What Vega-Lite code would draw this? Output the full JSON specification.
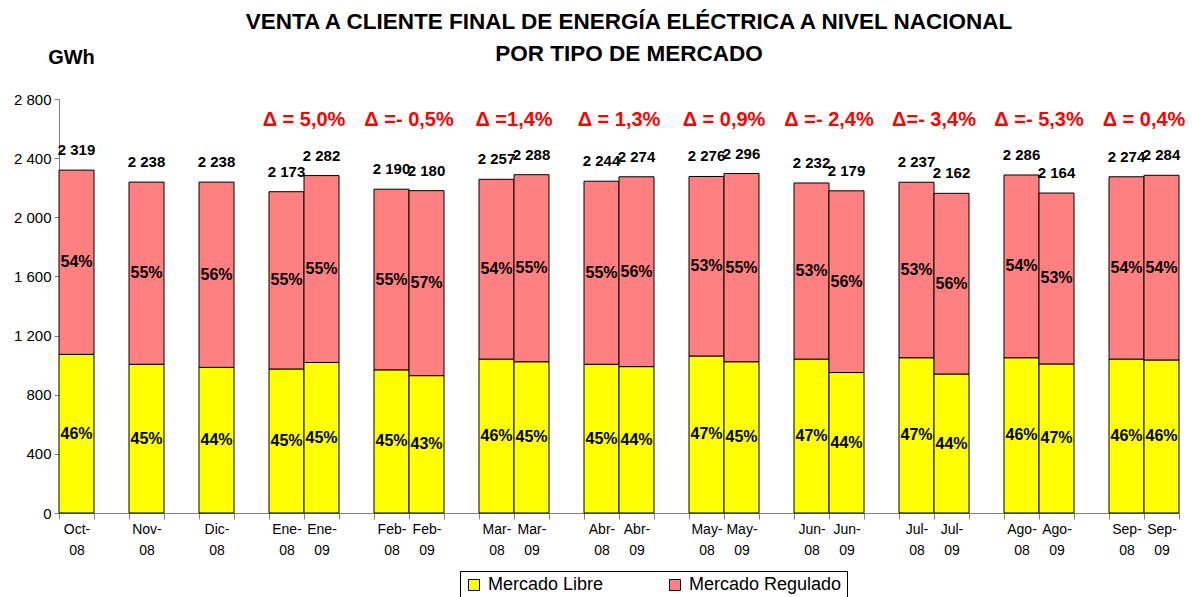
{
  "$schema": "https://vega.github.io/schema/vega-lite/v6.json",
  "width": 1120,
  "height": 414,
  "autosize": "none",
  "padding": {"left": 59, "top": 99, "right": 13, "bottom": 84},
  "background": "white",
  "title": {
    "text": ["VENTA A CLIENTE FINAL DE ENERGÍA ELÉCTRICA A NIVEL NACIONAL", "POR TIPO DE MERCADO"],
    "font": "Liberation Sans",
    "fontSize": 22.5,
    "fontWeight": "bold",
    "color": "black",
    "anchor": "middle",
    "lineHeight": 32,
    "offset": -18,
    "dx": 10
  },
  "datasets": {
    "bars": [
      {"period": "Oct-|08", "market": "Mercado Libre", "gwh": 1073, "pct": "46%"},
      {"period": "Oct-|08", "market": "Mercado Regulado", "gwh": 1246, "pct": "54%"},
      {"period": "Nov-|08", "market": "Mercado Libre", "gwh": 1006, "pct": "45%"},
      {"period": "Nov-|08", "market": "Mercado Regulado", "gwh": 1232, "pct": "55%"},
      {"period": "Dic-|08", "market": "Mercado Libre", "gwh": 985, "pct": "44%"},
      {"period": "Dic-|08", "market": "Mercado Regulado", "gwh": 1253, "pct": "56%"},
      {"period": "Ene-|08", "market": "Mercado Libre", "gwh": 974, "pct": "45%"},
      {"period": "Ene-|08", "market": "Mercado Regulado", "gwh": 1199, "pct": "55%"},
      {"period": "Ene-|09", "market": "Mercado Libre", "gwh": 1018, "pct": "45%"},
      {"period": "Ene-|09", "market": "Mercado Regulado", "gwh": 1264, "pct": "55%"},
      {"period": "Feb-|08", "market": "Mercado Libre", "gwh": 968, "pct": "45%"},
      {"period": "Feb-|08", "market": "Mercado Regulado", "gwh": 1222, "pct": "55%"},
      {"period": "Feb-|09", "market": "Mercado Libre", "gwh": 929, "pct": "43%"},
      {"period": "Feb-|09", "market": "Mercado Regulado", "gwh": 1251, "pct": "57%"},
      {"period": "Mar-|08", "market": "Mercado Libre", "gwh": 1041, "pct": "46%"},
      {"period": "Mar-|08", "market": "Mercado Regulado", "gwh": 1216, "pct": "54%"},
      {"period": "Mar-|09", "market": "Mercado Libre", "gwh": 1023, "pct": "45%"},
      {"period": "Mar-|09", "market": "Mercado Regulado", "gwh": 1265, "pct": "55%"},
      {"period": "Abr-|08", "market": "Mercado Libre", "gwh": 1006, "pct": "45%"},
      {"period": "Abr-|08", "market": "Mercado Regulado", "gwh": 1238, "pct": "55%"},
      {"period": "Abr-|09", "market": "Mercado Libre", "gwh": 990, "pct": "44%"},
      {"period": "Abr-|09", "market": "Mercado Regulado", "gwh": 1284, "pct": "56%"},
      {"period": "May-|08", "market": "Mercado Libre", "gwh": 1062, "pct": "47%"},
      {"period": "May-|08", "market": "Mercado Regulado", "gwh": 1214, "pct": "53%"},
      {"period": "May-|09", "market": "Mercado Libre", "gwh": 1023, "pct": "45%"},
      {"period": "May-|09", "market": "Mercado Regulado", "gwh": 1273, "pct": "55%"},
      {"period": "Jun-|08", "market": "Mercado Libre", "gwh": 1041, "pct": "47%"},
      {"period": "Jun-|08", "market": "Mercado Regulado", "gwh": 1191, "pct": "53%"},
      {"period": "Jun-|09", "market": "Mercado Libre", "gwh": 950, "pct": "44%"},
      {"period": "Jun-|09", "market": "Mercado Regulado", "gwh": 1229, "pct": "56%"},
      {"period": "Jul-|08", "market": "Mercado Libre", "gwh": 1050, "pct": "47%"},
      {"period": "Jul-|08", "market": "Mercado Regulado", "gwh": 1187, "pct": "53%"},
      {"period": "Jul-|09", "market": "Mercado Libre", "gwh": 940, "pct": "44%"},
      {"period": "Jul-|09", "market": "Mercado Regulado", "gwh": 1222, "pct": "56%"},
      {"period": "Ago-|08", "market": "Mercado Libre", "gwh": 1050, "pct": "46%"},
      {"period": "Ago-|08", "market": "Mercado Regulado", "gwh": 1236, "pct": "54%"},
      {"period": "Ago-|09", "market": "Mercado Libre", "gwh": 1008, "pct": "47%"},
      {"period": "Ago-|09", "market": "Mercado Regulado", "gwh": 1156, "pct": "53%"},
      {"period": "Sep-|08", "market": "Mercado Libre", "gwh": 1041, "pct": "46%"},
      {"period": "Sep-|08", "market": "Mercado Regulado", "gwh": 1233, "pct": "54%"},
      {"period": "Sep-|09", "market": "Mercado Libre", "gwh": 1035, "pct": "46%"},
      {"period": "Sep-|09", "market": "Mercado Regulado", "gwh": 1249, "pct": "54%"}
    ],
    "deltas": [
      {"period": "Ene-|08", "delta": "Δ = 5,0%"},
      {"period": "Feb-|08", "delta": "Δ =- 0,5%"},
      {"period": "Mar-|08", "delta": "Δ =1,4%"},
      {"period": "Abr-|08", "delta": "Δ = 1,3%"},
      {"period": "May-|08", "delta": "Δ = 0,9%"},
      {"period": "Jun-|08", "delta": "Δ =- 2,4%"},
      {"period": "Jul-|08", "delta": "Δ=- 3,4%"},
      {"period": "Ago-|08", "delta": "Δ =- 5,3%"},
      {"period": "Sep-|08", "delta": "Δ = 0,4%"}
    ]
  },
  "layer": [
    {
      "data": {"name": "bars"},
      "transform": [
        {"stack": "gwh", "groupby": ["period"], "sort": [{"field": "market", "order": "ascending"}], "as": ["y0", "y1"]},
        {"calculate": "(datum.y0 + datum.y1) / 2", "as": "mid"}
      ],
      "encoding": {
        "x": {
          "field": "period",
          "type": "nominal",
          "sort": null,
          "scale": {
            "domain": ["Oct-|08", "_1", "Nov-|08", "_2", "Dic-|08", "_3", "Ene-|08", "Ene-|09", "_4", "Feb-|08", "Feb-|09", "_5", "Mar-|08", "Mar-|09", "_6", "Abr-|08", "Abr-|09", "_7", "May-|08", "May-|09", "_8", "Jun-|08", "Jun-|09", "_9", "Jul-|08", "Jul-|09", "_10", "Ago-|08", "Ago-|09", "_11", "Sep-|08", "Sep-|09"],
            "paddingInner": 0,
            "paddingOuter": 0
          },
          "axis": {
            "title": null,
            "tickBand": "extent",
            "labelAngle": 0,
            "labelOverlap": false,
            "labelExpr": "(!isString(datum.value) || indexof(datum.value, '_') == 0) ? '' : split(datum.value, '|')",
            "labelFont": "Liberation Sans",
            "labelFontSize": 14,
            "labelLineHeight": 21,
            "labelColor": "black",
            "labelPadding": 3,
            "labelBaseline": "top",
            "domainColor": "#808080",
            "tickColor": "#808080",
            "tickSize": 6
          }
        }
      },
      "layer": [
        {
          "mark": {"type": "bar", "stroke": "black", "strokeWidth": 1},
          "encoding": {
            "y": {
              "field": "y1",
              "type": "quantitative",
              "scale": {"domain": [0, 2800], "nice": false},
              "axis": {
                "title": "GWh",
                "titleAngle": 0,
                "titleX": 12,
                "titleY": -42,
                "titleAlign": "center",
                "titleBaseline": "middle",
                "titleFont": "Liberation Sans",
                "titleFontSize": 20,
                "titleFontWeight": "bold",
                "titleColor": "black",
                "values": [0, 400, 800, 1200, 1600, 2000, 2400, 2800],
                "labelExpr": "replace(format(datum.value, ','), ',', ' ')",
                "labelFont": "Liberation Sans",
                "labelFontSize": 15,
                "labelColor": "black",
                "labelPadding": 3,
                "grid": false,
                "tickSize": 5,
                "domainColor": "#808080",
                "tickColor": "#808080"
              }
            },
            "y2": {"field": "y0"},
            "color": {
              "field": "market",
              "type": "nominal",
              "scale": {"domain": ["Mercado Libre", "Mercado Regulado"], "range": ["#FFFF00", "#FF8080"]},
              "legend": {
                "title": null,
                "orient": "none",
                "legendX": 401,
                "legendY": 472,
                "direction": "horizontal",
                "strokeColor": "black",
                "fillColor": "white",
                "padding": 5,
                "symbolType": "square",
                "symbolSize": 121,
                "symbolStrokeColor": "black",
                "symbolStrokeWidth": 1,
                "labelFont": "Liberation Sans",
                "labelFontSize": 18,
                "labelColor": "black",
                "labelLimit": 300,
                "labelOffset": 5,
                "columnPadding": 62
              }
            }
          }
        },
        {
          "mark": {"type": "text", "font": "Liberation Sans", "fontSize": 16, "fontWeight": "bold", "color": "black", "baseline": "middle"},
          "encoding": {
            "y": {"field": "mid", "type": "quantitative"},
            "text": {"field": "pct"}
          }
        },
        {
          "transform": [
            {"filter": "datum.market == 'Mercado Regulado'"},
            {"calculate": "replace(format(datum.y1, ','), ',', ' ')", "as": "totalLabel"}
          ],
          "mark": {"type": "text", "font": "Liberation Sans", "fontSize": 15, "fontWeight": "bold", "color": "black", "baseline": "bottom", "dy": -12},
          "encoding": {
            "y": {"field": "y1", "type": "quantitative"},
            "text": {"field": "totalLabel"}
          }
        }
      ]
    },
    {
      "data": {"name": "deltas"},
      "mark": {"type": "text", "font": "Liberation Sans", "fontSize": 20, "fontWeight": "bold", "color": "#FF0000", "baseline": "middle"},
      "encoding": {
        "x": {"field": "period", "type": "nominal", "bandPosition": 1},
        "y": {"datum": 2660, "type": "quantitative"},
        "text": {"field": "delta"}
      }
    }
  ],
  "config": {
    "view": {"stroke": null},
    "font": "Liberation Sans"
  }
}
